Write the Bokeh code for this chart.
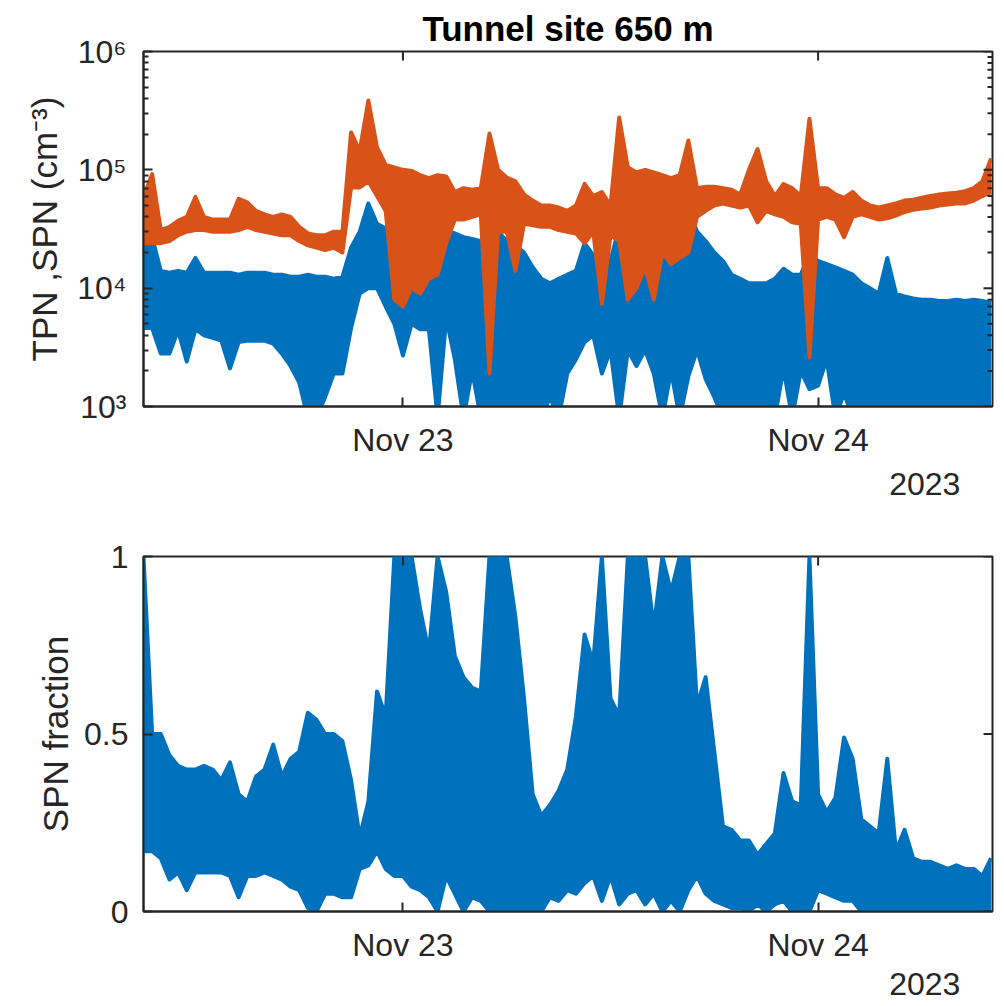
import numpy as np
import pandas as pd
from bokeh.plotting import figure
from bokeh.layouts import column
from bokeh.models import (Range1d, FixedTicker, DatetimeTickFormatter, DatetimeAxis)
from bokeh.embed import file_html
from bokeh.resources import INLINE

# ---------------- data ----------------
START = pd.Timestamp("2023-11-22 09:00")
END = pd.Timestamp("2023-11-24 10:05")
# one sample every 30 min from START; for each sample the upper and lower
# extremes of the dense record are kept
sample_hours = np.arange(0, 49.5, 0.5)

# TPN (orange), thousand cm^-3
tpn_hi_k = [59, 92, 31, 33, 37, 40, 59, 40, 38, 38,
            38, 57, 53, 45, 42, 40, 42, 40, 33, 29,
            28, 28, 30, 30, 207, 145, 385, 155, 110, 105,
            100, 98, 90, 85, 90, 88, 65, 70, 68, 70,
            203, 100, 86, 80, 62, 55, 50, 50, 48, 45,
            50, 76, 60, 65, 50, 277, 105, 95, 100, 95,
            90, 85, 90, 177, 70, 72, 72, 70, 68, 62,
            100, 150, 80, 60, 76, 70, 60, 270, 70, 70,
            62, 58, 65, 55, 50, 48, 50, 52, 55, 56,
            58, 60, 62, 63, 64, 66, 70, 80, 125]
tpn_lo_k = [24, 24, 24, 25, 28, 30, 31, 31, 30, 30,
            30, 31, 33, 31, 30, 29, 28, 28, 25, 23,
            22, 21, 22, 20, 71, 71, 80, 60, 45, 8,
            7, 10, 9, 12, 13, 24, 38, 38, 40, 42,
            1.9, 30, 30, 14, 35, 34, 33, 33, 31, 30,
            29, 24, 30, 7.4, 28, 25, 8, 10, 15, 8,
            20, 16, 18, 20, 40, 45, 50, 52, 50, 48,
            50, 36, 45, 42, 40, 36, 35, 2.6, 38, 40,
            38, 27, 40, 42, 40, 38, 39, 41, 44, 46,
            47, 48, 50, 51, 52, 52, 55, 60, 65]

# SPN (blue), thousand cm^-3
spn_hi_k = [22, 27, 14, 13.5, 14, 13.5, 18, 13.5, 13.5, 13.5,
            13.5, 13, 13.5, 13.5, 13.5, 13, 13, 12.5, 12.5, 13,
            12.5, 12.5, 12, 12.5, 22, 30, 52, 35, 32, 28,
            22, 27, 27, 29, 24, 31, 29, 27, 26, 25,
            33, 30, 25, 23, 20, 15, 12, 11, 12, 13,
            14, 24, 19, 18, 17, 33, 31, 30, 28, 26,
            28, 27, 24, 48, 30, 25, 20, 17, 13, 12,
            11, 11, 11, 12, 14.6, 13, 13, 19.7, 17, 16,
            15, 14, 13, 11, 10, 9, 18, 9, 8.5, 8.2,
            8, 8, 7.8, 7.8, 8, 7.8, 8, 7.8, 7.5]
spn_lo_k = [4.6, 4.6, 2.8, 2.8, 4.4, 2.4, 4.5, 4, 3.8, 3.6,
            2.1, 3.5, 3.6, 3.6, 3.6, 3.4, 2.8, 2.2, 1.6, 0.8,
            0.8, 1.2, 1.9, 1.9, 4.6, 9, 10, 10, 7, 5,
            2.7, 5, 4.5, 4.5, 0.8, 5.6, 2.5, 0.8, 2, 0.8,
            0.8, 0.8, 0.8, 0.8, 0.8, 0.8, 0.8, 1.2, 0.8, 1.9,
            2.5, 3.5, 4, 1.9, 3, 0.8, 3, 2.2, 3, 1.9,
            0.8, 2, 0.8, 1.8, 3, 1.7, 1.2, 0.8, 1.1, 0.8,
            0.8, 0.8, 0.8, 0.8, 2.1, 0.8, 2, 1.4, 1.5, 2.5,
            0.8, 1.3, 0.8, 0.8, 0.8, 0.8, 0.8, 0.8, 0.8, 0.8,
            0.8, 0.8, 0.8, 0.8, 0.8, 0.8, 0.8, 0.8, 0.8]

# SPN fraction (blue)
frac_hi = [1.0, 0.5, 0.5, 0.44, 0.41, 0.4, 0.4, 0.41, 0.4, 0.37,
           0.42, 0.33, 0.31, 0.38, 0.4, 0.47, 0.38, 0.43, 0.45, 0.56,
           0.54, 0.5, 0.5, 0.48, 0.37, 0.21, 0.31, 0.62, 0.55, 1.0,
           1.0, 1.0, 0.85, 0.73, 1.0, 0.9, 0.72, 0.66, 0.63, 0.62,
           1.0, 1.0, 1.0, 0.83, 0.6, 0.33, 0.27, 0.3, 0.34, 0.4,
           0.55, 0.78, 0.7, 1.0, 0.6, 0.55, 1.0, 1.0, 1.0, 0.8,
           1.0, 0.9, 1.0, 1.0, 0.58, 0.66, 0.45, 0.24, 0.23, 0.2,
           0.2, 0.16, 0.19, 0.22, 0.39, 0.31, 0.3, 1.0, 0.33, 0.28,
           0.32, 0.49, 0.43, 0.26, 0.24, 0.22, 0.43, 0.17, 0.23, 0.15,
           0.14, 0.14, 0.13, 0.12, 0.13, 0.12, 0.12, 0.1, 0.15]
frac_lo = [0.17, 0.17, 0.15, 0.09, 0.11, 0.06, 0.11, 0.11, 0.11, 0.11,
           0.1, 0.04, 0.1, 0.1, 0.11, 0.1, 0.09, 0.07, 0.06, 0.01,
           0.0, 0.05, 0.05, 0.04, 0.04, 0.12, 0.13, 0.17, 0.12, 0.1,
           0.1, 0.07, 0.06, 0.04, 0.0, 0.1, 0.05, 0.0, 0.04, 0.03,
           0.0, 0.0, 0.0, 0.0, 0.0, 0.0, 0.0, 0.04, 0.03, 0.06,
           0.05, 0.08, 0.1, 0.03, 0.1, 0.02, 0.05, 0.06, 0.02, 0.05,
           0.0, 0.03, 0.0, 0.06, 0.1, 0.05, 0.03, 0.02, 0.01, 0.01,
           0.0, 0.02, 0.0, 0.02, 0.03, 0.0, 0.0, 0.0, 0.06, 0.05,
           0.04, 0.03, 0.03, 0.0, 0.0, 0.0, 0.0, 0.0, 0.0, 0.0,
           0.0, 0.0, 0.0, 0.0, 0.0, 0.0, 0.0, 0.0, 0.0]

x_tick_days = ["2023-11-23", "2023-11-24"]
year_label_time = "2023-11-24 06:10"
log_major = [1e3, 1e4, 1e5, 1e6]
log_labels = ["10³", "10⁴", "10⁵", "10⁶"]
frac_ticks = [0, 0.5, 1]
frac_labels = ["0", "0.5", "1"]

# ---------------- helpers ----------------
BLUE = "#0072BD"
ORANGE = "#D95319"
AX = "#262626"
FONT = "Liberation Sans"

times = START + pd.to_timedelta(sample_hours, unit="h")
xt = [pd.Timestamp(d).value / 1e6 for d in x_tick_days]
year_ms = pd.Timestamp(year_label_time).value / 1e6
end_ms = END.value / 1e6


def all_fmt(f):
    return DatetimeTickFormatter(microseconds=f, milliseconds=f, seconds=f, minsec=f,
                                 minutes=f, hourmin=f, hours=f, days=f, months=f, years=f)


def band(p, hi, lo, color, scale=1.0):
    hv = np.asarray(hi, dtype=float) * scale
    lv = np.asarray(lo, dtype=float) * scale
    p.varea(x=times, y1=lv, y2=hv, fill_color=color)
    p.line(times, hv, line_color=color, line_width=4, line_join="round")
    p.line(times, lv, line_color=color, line_width=4, line_join="round")


def style_axis(ax):
    ax.axis_line_color = AX
    ax.axis_line_width = 2
    ax.major_tick_line_color = AX
    ax.major_tick_line_width = 2
    ax.minor_tick_line_color = AX
    ax.minor_tick_line_width = 2
    ax.major_tick_in = 9
    ax.major_tick_out = 0
    ax.minor_tick_in = 5
    ax.minor_tick_out = 0
    ax.major_label_text_font = FONT
    ax.major_label_text_font_size = "32px"
    ax.major_label_text_color = AX
    ax.axis_label_text_font = FONT
    ax.axis_label_text_font_size = "35px"
    ax.axis_label_text_font_style = "normal"
    ax.axis_label_text_color = AX


def make_fig(y_type, y_range, top, bottom, year_standoff):
    p = figure(x_axis_type="datetime", y_axis_type=y_type,
               x_range=Range1d(START, END), y_range=y_range,
               frame_width=849, frame_height=355,
               min_border_left=143, min_border_right=10,
               min_border_top=top, min_border_bottom=bottom,
               output_backend="svg", toolbar_location=None,
               background_fill_color="white", border_fill_color="white")
    p.grid.visible = False
    p.outline_line_color = AX
    p.outline_line_width = 2
    xa = p.below[0]
    xa.ticker = FixedTicker(ticks=xt)
    xa.formatter = all_fmt("%b %d")
    style_axis(xa)
    xa.major_label_standoff = 15
    # second line under the date ticks: the year
    yr = DatetimeAxis(ticker=FixedTicker(ticks=[year_ms]), formatter=all_fmt("%Y"))
    yr.axis_line_color = None
    yr.major_tick_line_color = None
    yr.minor_tick_line_color = None
    yr.major_tick_in = 0
    yr.major_tick_out = 0
    yr.minor_tick_in = 0
    yr.minor_tick_out = 0
    yr.major_label_standoff = year_standoff
    yr.major_label_text_font = FONT
    yr.major_label_text_font_size = "32px"
    yr.major_label_text_color = AX
    p.add_layout(yr, "below")
    return p


# ---------------- top panel ----------------
p1 = make_fig("log", Range1d(1e3, 1e6), 51, 125, 12)
p1.title.text = "Tunnel site 650 m"
p1.title.align = "center"
p1.title.text_font = FONT
p1.title.text_font_size = "35px"
p1.title.text_font_style = "bold"
p1.title.text_color = "black"
p1.title.standoff = 8

log_minor = [m * 10 ** e for e in range(3, 6) for m in range(2, 10)]
ya = p1.left[0]
ya.ticker = FixedTicker(ticks=log_major, minor_ticks=log_minor)
ya.major_label_overrides = {k: v for k, v in zip(log_major, log_labels)}
style_axis(ya)
ya.major_label_standoff = 17
ya.axis_label = "TPN ,SPN (cm⁻³)"
ya.axis_label_standoff = 10

band(p1, spn_hi_k, spn_lo_k, BLUE, 1e3)
band(p1, tpn_hi_k, tpn_lo_k, ORANGE, 1e3)

# box ticks on right and top edges
p1.ray(x=[end_ms] * len(log_major), y=log_major, length=9, length_units="screen",
       angle=np.pi, line_color=AX, line_width=2)
p1.ray(x=[end_ms] * len(log_minor), y=log_minor, length=5, length_units="screen",
       angle=np.pi, line_color=AX, line_width=2)
p1.ray(x=xt, y=[1e6] * len(xt), length=9, length_units="screen",
       angle=-np.pi / 2, line_color=AX, line_width=2)

# ---------------- bottom panel ----------------
p2 = make_fig("linear", Range1d(0, 1), 25, 90, 7)
ya2 = p2.left[0]
ya2.ticker = FixedTicker(ticks=frac_ticks)
ya2.major_label_overrides = {k: v for k, v in zip(frac_ticks, frac_labels)}
style_axis(ya2)
ya2.major_label_standoff = 15
ya2.axis_label = "SPN fraction"
ya2.axis_label_standoff = 6

band(p2, frac_hi, frac_lo, BLUE)

p2.ray(x=[end_ms] * len(frac_ticks), y=frac_ticks, length=9, length_units="screen",
       angle=np.pi, line_color=AX, line_width=2)
p2.ray(x=xt, y=[1] * len(xt), length=9, length_units="screen",
       angle=-np.pi / 2, line_color=AX, line_width=2)

layout = column(p1, p2)
open("out.html", "w").write(file_html(layout, INLINE))
